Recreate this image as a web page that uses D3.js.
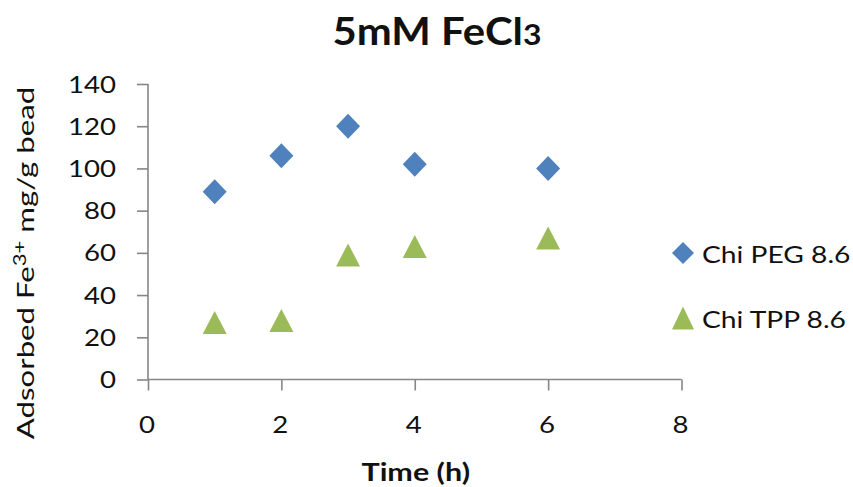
<!DOCTYPE html>
<html>
<head>
<meta charset="utf-8">
<script src="https://cdn.jsdelivr.net/npm/d3@7"></script>
<style>
  html, body { margin: 0; padding: 0; background: #fff; }
  svg { display: block; }
  text { font-family: Lato, "Open Sans", sans-serif; fill: #111; }
</style>
</head>
<body>
<svg id="chart" width="853" height="487"></svg>
<script>
// Adsorbed Fe3+ over time for two bead formulations
const times = [1, 2, 3, 4, 6];
const chiPegValues = [89, 106, 120, 102, 100];
const chiTppValues = [27, 28, 59, 63, 67];
const seriesNames = ["Chi PEG 8.6", "Chi TPP 8.6"];
const seriesColors = ["#4F81BD", "#9BBB59"];
const xTicks = [0, 2, 4, 6, 8];
const yTicks = [0, 20, 40, 60, 80, 100, 120, 140];

const svg = d3.select("#chart");
const axisColor = "#868686";
const stretch = 1.15; // wide glyphs for all labels

const x = d3.scaleLinear().domain([0, 8]).range([148, 681.5]);
const y = d3.scaleLinear().domain([0, 140]).range([379.5, 84]);

// horizontally widened text placed at (px, py)
function label(g, str, px, py, opts = {}) {
  const t = g.append("text")
    .attr("transform", `translate(${px},${py}) rotate(${opts.rotate || 0}) scale(${opts.sx || stretch},1)`)
    .attr("text-anchor", opts.anchor || "start")
    .style("font-size", (opts.size || 24) + "px")
    .style("font-weight", opts.bold ? 700 : 400);
  if (str !== null) t.text(str);
  return t;
}

// Title: FeCl with a small "3" resting on the baseline
const title = label(svg, null, 437, 45, { anchor: "middle", size: 38, bold: true, sx: 1.1 });
title.append("tspan").text("5mM FeCl");
title.append("tspan").style("font-size", "29px").text("3");

// Y axis
const yAxis = svg.append("g")
  .attr("transform", `translate(${x(0)},0)`)
  .call(d3.axisLeft(y).tickValues(yTicks).tickSize(11).tickFormat(""));
// X axis
const xAxis = svg.append("g")
  .attr("transform", `translate(0,${y(0)})`)
  .call(d3.axisBottom(x).tickValues(xTicks).tickSize(11).tickFormat(""));
[yAxis, xAxis].forEach(a => {
  a.select(".domain").attr("stroke", axisColor).attr("stroke-width", 1.6);
  a.selectAll(".tick line").attr("stroke", axisColor).attr("stroke-width", 1.6);
});
// plain axis lines without d3's outer end caps
yAxis.select(".domain").attr("d", `M0,${y(140)}V${y(0)}`);
xAxis.select(".domain").attr("d", `M${x(0)},0H${x(8)}`);

const tickLabels = svg.append("g");
yTicks.forEach(v => label(tickLabels, String(v), 116, y(v) + 8.5, { anchor: "end" }));
xTicks.forEach(v => label(tickLabels, String(v), x(v) - 1, 433, { anchor: "middle" }));

// Axis titles
label(svg, "Time (h)", x(4) + 1, 481, { anchor: "middle", bold: true, size: 25, sx: 1.22 });
const yt = label(svg, null, 34, 263, { anchor: "middle", rotate: -90, sx: 1.3 });
yt.append("tspan").text("Adsorbed Fe");
yt.append("tspan").attr("dy", -8).style("font-size", "17px").text("3+");
yt.append("tspan").attr("dy", 8).text(" mg/g bead");

// Marker shapes
const diamond = (w, h) => `M0,${-h}L${w},0L0,${h}L${-w},0Z`;
const triangle = (w, h) => `M0,${-h}L${w},${h}L${-w},${h}Z`;
const shapes = [diamond(12, 12.5), triangle(12, 11.5)];

const series = [chiPegValues, chiTppValues];
series.forEach((vals, i) => {
  svg.append("g").selectAll("path")
    .data(times.map((t, j) => [t, vals[j]]))
    .join("path")
    .attr("d", shapes[i])
    .attr("transform", d => `translate(${x(d[0])},${y(d[1])})`)
    .attr("fill", seriesColors[i]);
});

// Legend
const legend = svg.append("g");
seriesNames.forEach((name, i) => {
  const ly = 253 + i * 65;
  legend.append("path")
    .attr("d", i === 0 ? diamond(11, 11) : triangle(11, 11.5))
    .attr("transform", `translate(683,${ly})`)
    .attr("fill", seriesColors[i]);
  label(legend, name, 702, ly + 10, { size: 23.5, sx: 1.2 });
});
</script>
</body>
</html>
